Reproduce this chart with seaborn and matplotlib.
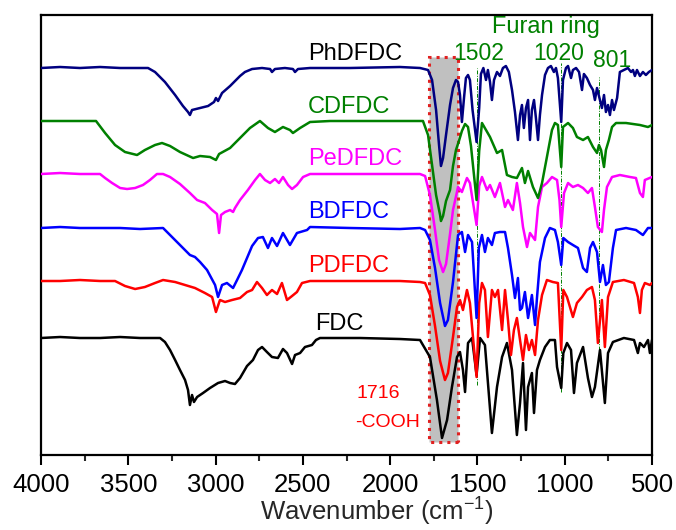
import numpy as np
import pandas as pd
import matplotlib
matplotlib.use("Agg")
import matplotlib.pyplot as plt
from matplotlib.patches import Rectangle
import seaborn as sns

# ---- FTIR spectra (wavenumber in cm-1, relative transmittance in a.u., 0 = baseline) ----
fdc_wn = [4000, 3891, 3777, 3662, 3547, 3433, 3318, 3290, 3261, 3232, 3204, 3175, 3158, 3147, 3135,
          3124, 3106, 3072, 3032, 2986, 2946, 2917, 2889, 2860, 2820, 2786, 2757, 2734, 2706, 2677,
          2643, 2614, 2591, 2562, 2545, 2516, 2488, 2448, 2425, 2402, 2173, 1944, 1829, 1772, 1732,
          1703, 1674, 1646, 1617, 1600, 1583, 1571, 1554, 1531, 1505, 1485, 1457, 1417, 1388, 1359,
          1331, 1302, 1274, 1256, 1239, 1222, 1210, 1188, 1176, 1159, 1142, 1113, 1085, 1056, 1044,
          1020, 1008, 987, 964, 947, 930, 895, 867, 844, 827, 798, 770, 752, 724, 661, 603, 581, 569,
          546, 523, 512, 500]
fdc_t = [0, 1, 0, 0, 1, 0, 0, -4, -12, -22, -32, -42, -52, -67, -57,
         -64, -59, -55, -50, -45, -43, -45, -46, -40, -28, -22, -12, -9, -14, -19,
         -20, -11, -15, -26, -17, -15, -9, -7, -2, 0, 0, -1, -2, -19, -62,
         -100, -82, -49, -19, -14, -32, -54, -5, 0, -37, 0, -7, -95, -49, -19,
         -5, -32, -97, -65, -25, -92, -49, -35, -75, -32, -22, -9, -2, -2, -29,
         -50, -15, -5, -12, -55, -25, -9, -40, -59, -49, -12, -65, -15, -4, 0, -2, -15, -5,
         -9, -2, -15, -2]

pdfdc_wn = [4000, 3891, 3777, 3662, 3576, 3519, 3461, 3405, 3347, 3301, 3232, 3175, 3118, 3061, 3020,
            2998, 2975, 2946, 2906, 2860, 2820, 2791, 2763, 2734, 2706, 2677, 2648, 2620, 2591, 2562,
            2534, 2505, 2459, 2230, 1944, 1829, 1800, 1772, 1743, 1714, 1686, 1669, 1640, 1617, 1600,
            1583, 1560, 1543, 1505, 1490, 1474, 1457, 1440, 1417, 1400, 1382, 1359, 1342, 1325, 1308,
            1291, 1274, 1256, 1239, 1222, 1205, 1188, 1170, 1153, 1130, 1102, 1068, 1039, 1020, 1008,
            987, 970, 953, 930, 901, 873, 844, 827, 810, 787, 770, 752, 724, 661, 603, 581, 569, 558,
            541, 512, 500]
pdfdc_t = [0, 0, 1, 0, 0, -5, -8, -6, -2, 1, -1, -4, -7, -12, -16,
           -31, -19, -21, -19, -17, -11, -9, -1, -7, -14, -9, -13, -2, -19, -15,
           -11, -2, 0, 0, 0, -1, -2, -14, -45, -80, -99, -92, -56, -26, -19,
           -29, -9, -22, -96, -22, -2, -9, -56, -9, -16, -9, -49, -9, -39, -74,
           -49, -37, -59, -79, -54, -69, -59, -74, -39, -14, 1, -1, -2, -69, -9,
           -16, -26, -36, -22, -16, -9, -6, -19, -62, -19, -66, -16, -1, 1, -2, -16, -32, -9,
           -2, -4, -2]

bdfdc_wn = [4000, 3891, 3777, 3662, 3547, 3433, 3301, 3261, 3204, 3147, 3118, 3089, 3049, 3003, 2986,
            2963, 2935, 2900, 2877, 2849, 2820, 2791, 2757, 2729, 2700, 2677, 2648, 2614, 2574, 2534,
            2476, 2459, 2230, 1944, 1829, 1800, 1772, 1743, 1714, 1686, 1669, 1640, 1611, 1589, 1571,
            1554, 1531, 1505, 1492, 1474, 1457, 1440, 1417, 1400, 1371, 1342, 1325, 1302, 1285, 1268,
            1256, 1245, 1228, 1210, 1188, 1170, 1159, 1142, 1113, 1085, 1056, 1039, 1020, 1008, 981,
            953, 924, 895, 873, 855, 838, 815, 798, 781, 764, 747, 724, 706, 649, 592, 552, 523, 500]
bdfdc_t = [0, 1, 0, 0, 0, -1, 0, -7, -17, -27, -29, -34, -42, -57, -69,
           -57, -55, -60, -52, -42, -30, -18, -10, -9, -20, -10, -18, -5, -17, -5,
           -2, 1, 0, -1, 0, -2, -12, -40, -75, -98, -92, -54, -7, -4, -24,
           -7, -14, -90, -20, -7, -24, -10, -17, -5, -4, -4, -20, -47, -70, -50,
           -82, -80, -64, -90, -67, -97, -70, -34, -10, 0, -2, -14, -37, -10, -14,
           -17, -20, -40, -44, -20, -14, -24, -54, -37, -57, -54, -20, -2, 0, -2, -7, 0, 0]

pedfdc_wn = [4000, 3891, 3777, 3662, 3633, 3593, 3547, 3507, 3461, 3416, 3376, 3336, 3301, 3261, 3204,
             3147, 3106, 3061, 3020, 2992, 2980, 2969, 2946, 2917, 2900, 2889, 2860, 2815, 2774, 2746,
             2717, 2688, 2660, 2637, 2614, 2585, 2562, 2534, 2499, 2459, 2230, 1944, 1829, 1800, 1772,
             1743, 1720, 1697, 1680, 1657, 1640, 1611, 1589, 1560, 1543, 1525, 1505, 1490, 1474, 1445,
             1428, 1400, 1371, 1342, 1325, 1297, 1274, 1256, 1239, 1216, 1199, 1170, 1153, 1130, 1102,
             1073, 1044, 1030, 1020, 1004, 981, 953, 924, 895, 867, 844, 827, 810, 787, 775, 758, 729,
             684, 626, 592, 569, 552, 541, 500]
pedfdc_t = [0, 1, 0, 0, -4, -9, -14, -15, -14, -11, -6, 0, 0, -3, -10,
            -19, -26, -29, -36, -40, -59, -41, -38, -36, -38, -34, -26, -16, -6, 0,
            -6, -9, -5, -9, -3, -11, -15, -11, -3, 0, 0, 0, 0, -2, -21,
            -56, -86, -98, -90, -60, -36, -13, -18, -4, -9, -29, -51, -12, -3, -16,
            -11, -23, -9, -33, -26, -36, -9, -29, -53, -73, -59, -66, -33, -13, -9,
            -3, -6, -26, -53, -19, -9, -13, -11, -14, -19, -14, -33, -53, -58, -36, -13, -3,
            -1, -3, -4, -19, -23, -6, -3]

cdfdc_wn = [4000, 3891, 3777, 3685, 3633, 3576, 3519, 3450, 3405, 3347, 3307, 3261, 3204, 3129, 3089,
            3032, 2998, 2980, 2917, 2860, 2803, 2746, 2700, 2660, 2614, 2574, 2557, 2516, 2459, 2344,
            2173, 1944, 1812, 1783, 1760, 1737, 1714, 1709, 1697, 1680, 1657, 1640, 1623, 1606, 1589,
            1571, 1554, 1537, 1505, 1490, 1474, 1428, 1388, 1359, 1331, 1302, 1274, 1245, 1228, 1210,
            1182, 1153, 1130, 1102, 1073, 1056, 1039, 1020, 1010, 981, 953, 930, 895, 867, 838, 815,
            804, 792, 775, 764, 747, 729, 706, 649, 569, 523, 500]
cdfdc_t = [0, 0, 0, 0, -12, -24, -31, -34, -29, -24, -22, -25, -31, -37, -35,
           -36, -39, -33, -27, -17, -7, 0, -7, -11, -6, -9, -12, -7, -1, 0,
           0, 0, 0, -14, -44, -74, -94, -100, -95, -80, -69, -45, -29, -20, -10,
           -3, -6, -25, -79, -30, -2, -16, -32, -29, -54, -56, -57, -47, -62, -50,
           -66, -77, -62, -36, -9, -2, -4, -46, -6, -2, -7, -16, -19, -16, -26, -32,
           -24, -29, -46, -29, -19, -6, -2, -2, -4, -6, -4]

phdfdc_wn = [4000, 3891, 3777, 3662, 3547, 3387, 3347, 3290, 3232, 3187, 3158, 3147, 3135, 3089, 3043,
             3009, 2998, 2986, 2963, 2917, 2860, 2832, 2791, 2734, 2688, 2677, 2660, 2603, 2557, 2545,
             2528, 2459, 2230, 1944, 1829, 1783, 1760, 1737, 1720, 1709, 1697, 1680, 1657, 1640, 1623,
             1611, 1600, 1589, 1577, 1566, 1554, 1543, 1528, 1505, 1490, 1480, 1466, 1451, 1440, 1428,
             1417, 1405, 1388, 1371, 1354, 1337, 1320, 1302, 1285, 1268, 1256, 1245, 1234, 1222, 1210,
             1199, 1188, 1176, 1165, 1153, 1142, 1130, 1113, 1096, 1079, 1062, 1050, 1039, 1020, 1010,
             993, 981, 964, 953, 935, 918, 901, 890, 873, 855, 838, 827, 815, 801, 787, 775, 764, 752,
             741, 729, 718, 700, 684, 661, 638, 620, 609, 598, 586, 569, 552, 535, 518, 500]
phdfdc_t = [0, 1, 0, 1, 0, 0, -4, -14, -27, -38, -44, -47, -42, -40, -38,
            -34, -30, -33, -25, -18, -8, -4, -1, 0, -1, -4, -1, 0, -1, -4,
            -1, 0, 0, 1, 0, -2, -12, -42, -77, -98, -90, -67, -37, -20, -12,
            -14, -27, -54, -30, -10, -7, -12, -42, -74, -40, -6, 0, -12, -2, -14,
            -32, -12, -4, -8, 0, 2, -4, -22, -44, -72, -47, -37, -60, -40, -32,
            -72, -42, -32, -50, -72, -47, -27, -7, 0, 2, -4, 0, -10, -54, -12,
            0, 2, -10, -2, 0, -4, -22, -6, -10, -17, -22, -32, -20, -30, -40, -27, -44, -37,
            -47, -32, -42, -30, -4, -2, 0, -4, -2, -8, -2, -8, -4, -7, -4, -2]

samples = ["FDC", "PDFDC", "BDFDC", "PeDFDC", "CDFDC", "PhDFDC"]
offsets = [117, 174, 227, 281, 334, 387]
line_colors = ["#000000", "#FF0000", "#0000FF", "#FF00FF", "#008000", "#000080"]
label_colors = ["#000000", "#FF0000", "#0000FF", "#FF00FF", "#008000", "#000000"]

# band markers
cooh_band = (1777, 1611)
furan_bands = [1502, 1020, 801]
furan_line_span = [(70, 387), (63, 392), (105, 378)]

spectra = {
    "FDC": (fdc_wn, fdc_t), "PDFDC": (pdfdc_wn, pdfdc_t), "BDFDC": (bdfdc_wn, bdfdc_t),
    "PeDFDC": (pedfdc_wn, pedfdc_t), "CDFDC": (cdfdc_wn, cdfdc_t), "PhDFDC": (phdfdc_wn, phdfdc_t),
}

frames = []
for name, off in zip(samples, offsets):
    wn, t = spectra[name]
    frames.append(pd.DataFrame({"wavenumber": wn, "signal": np.array(t) + off, "sample": name}))
df = pd.concat(frames, ignore_index=True)

sns.set_style("ticks")
plt.rcParams["font.family"] = ["Liberation Sans", "DejaVu Sans"]
plt.rcParams["mathtext.fontset"] = "custom"
plt.rcParams["mathtext.rm"] = "Liberation Sans"
plt.rcParams["mathtext.it"] = "Liberation Sans:italic"

fig = plt.figure(figsize=(6.76, 5.30), dpi=100)
ax = fig.add_axes([0.0607, 0.1415, 0.9038, 0.8302])

# carbonyl band highlight
ax.add_patch(Rectangle((cooh_band[1], 13), cooh_band[0] - cooh_band[1], 385,
                       facecolor="#C0C0C0", edgecolor="#E02020", linestyle=":",
                       linewidth=2.2, zorder=1))

sns.lineplot(data=df, x="wavenumber", y="signal", hue="sample", hue_order=samples,
             palette=dict(zip(samples, line_colors)), estimator=None, sort=False,
             legend=False, linewidth=1.8, ax=ax, zorder=3)

for wn, (y0, y1) in zip(furan_bands, furan_line_span):
    ax.plot([wn, wn], [y0, y1], color="#008000", linestyle=(0, (4, 1.5, 1, 1.5)),
            linewidth=0.7, zorder=2)

# sample names
label_pos = [(2431, 125), (2471, 183), (2471, 237), (2471, 290), (2471, 342), (2471, 395)]
for name, col, (x, y) in zip(samples, label_colors, label_pos):
    ax.text(x, y, name, color=col, fontsize=17, ha="left", va="baseline")

ax.text(1417, 422, "Furan ring", color="#008000", fontsize=17, ha="left", va="baseline")
ax.text(1640, 395, "1502", color="#008000", fontsize=16.5, ha="left", va="baseline")
ax.text(1182, 395, "1020", color="#008000", fontsize=16.5, ha="left", va="baseline")
ax.text(838, 388, "801", color="#008000", fontsize=16.5, ha="left", va="baseline")
ax.text(2190, 57, "1716", color="#FF0000", fontsize=14, ha="left", va="baseline")
ax.text(2201, 28, "-COOH", color="#FF0000", fontsize=14, ha="left", va="baseline")

ax.set_xlim(4000, 500)
ax.set_ylim(0, 440)
ax.set_xticks(np.arange(4000, 499, -500))
ax.set_xticks(np.arange(3750, 500, -500), minor=True)
ax.set_yticks([])
ax.tick_params(axis="x", which="major", direction="out", length=7, width=1.5,
               labelsize=18.5, pad=6, colors="black")
ax.tick_params(axis="x", which="minor", direction="out", length=4, width=1.5)
for s in ax.spines.values():
    s.set_visible(True)
    s.set_linewidth(1.6)
    s.set_color("black")

ax.set_xlabel("Wavenumber (cm$^{-1}$)", fontsize=18.5)
ax.xaxis.label.set_va("baseline")
ax.xaxis.set_label_coords(0.55, -0.150)
ax.set_ylabel("")

fig.savefig("out.png", dpi=100)
